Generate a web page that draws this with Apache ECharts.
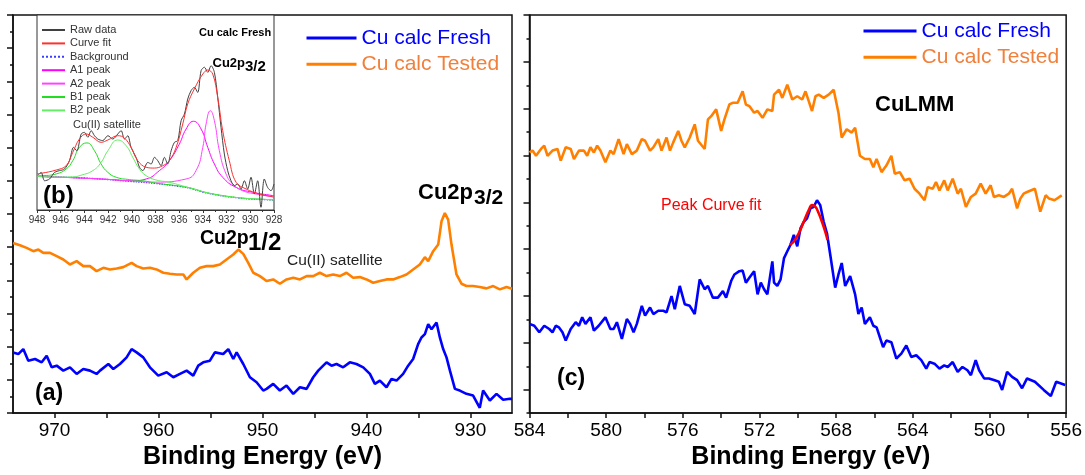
<!DOCTYPE html>
<html>
<head>
<meta charset="utf-8">
<script src="https://cdn.jsdelivr.net/npm/echarts@6/dist/echarts.min.js"></script>
<style>
  html, body { margin: 0; padding: 0; background: #fff; }
  #chart { width: 1085px; height: 475px; }
</style>
</head>
<body>
<div id="chart"></div>
<script>
// panel (a): Cu 2p, binding energy (eV) / intensity (a.u.)
var aFreshE = [974.0, 973.49, 973.01, 972.53, 971.88, 971.24, 970.76, 970.28, 969.80, 969.16, 968.52, 967.88, 967.24, 966.60, 965.96, 965.63, 964.83, 964.35, 963.71, 963.07, 962.59, 962.11, 961.47, 960.83, 960.03, 959.22, 958.58, 957.94, 957.30, 956.66, 956.18, 955.70, 955.06, 954.58, 953.78, 953.29, 952.81, 952.49, 951.85, 951.21, 950.57, 949.93, 949.61, 948.97, 948.33, 947.69, 947.04, 946.40, 945.76, 945.12, 944.64, 944.16, 943.84, 943.36, 942.88, 942.24, 941.60, 940.96, 940.31, 939.67, 939.19, 938.71, 938.07, 937.59, 937.11, 936.47, 935.99, 935.51, 935.03, 934.71, 934.38, 934.06, 933.74, 933.26, 932.94, 932.62, 932.30, 931.97, 931.49, 931.02, 930.38, 929.74, 929.10, 928.78, 928.13, 927.49, 926.85, 926.21, 926.0];
var aFreshI = [1.83, 1.78, 1.93, 1.58, 1.63, 1.53, 1.73, 1.38, 1.43, 1.28, 1.38, 1.18, 1.33, 1.28, 1.18, 1.28, 1.48, 1.33, 1.48, 1.68, 1.93, 1.83, 1.68, 1.38, 1.13, 1.23, 1.08, 1.18, 1.28, 1.13, 1.43, 1.53, 1.58, 1.83, 1.78, 1.93, 1.63, 1.83, 1.48, 1.08, 0.93, 0.68, 0.73, 0.88, 0.68, 0.83, 0.58, 0.78, 0.73, 1.08, 1.28, 1.43, 1.53, 1.43, 1.48, 1.38, 1.53, 1.48, 1.38, 1.18, 0.88, 0.98, 0.78, 1.03, 0.98, 1.18, 1.43, 1.63, 2.08, 2.28, 2.38, 2.68, 2.53, 2.73, 2.28, 1.93, 1.68, 1.28, 0.73, 0.68, 0.58, 0.53, 0.16, 0.68, 0.38, 0.58, 0.40, 0.43, 0.43];
var aTestE = [974.0, 973.33, 972.69, 972.04, 971.56, 971.08, 970.44, 969.80, 969.16, 968.52, 967.88, 967.24, 966.60, 965.96, 965.31, 964.67, 964.03, 963.39, 962.59, 962.11, 961.47, 960.83, 960.19, 959.54, 958.90, 958.26, 957.62, 957.30, 956.66, 956.02, 955.38, 954.74, 954.10, 953.46, 952.81, 952.33, 951.85, 951.37, 950.89, 950.25, 949.61, 948.97, 948.33, 947.69, 947.04, 946.40, 945.76, 945.12, 944.48, 943.84, 943.20, 942.56, 941.92, 941.28, 940.63, 939.99, 939.35, 938.71, 938.07, 937.43, 936.79, 936.15, 935.51, 934.87, 934.38, 934.06, 933.58, 933.10, 932.78, 932.46, 932.14, 931.82, 931.34, 930.86, 930.38, 929.74, 929.10, 928.46, 927.81, 927.17, 926.53, 926.0];
var aTestI = [5.13, 5.06, 4.98, 4.88, 4.93, 4.83, 4.83, 4.73, 4.63, 4.48, 4.58, 4.43, 4.43, 4.28, 4.38, 4.33, 4.36, 4.40, 4.53, 4.43, 4.36, 4.38, 4.33, 4.23, 4.20, 4.18, 4.18, 4.03, 4.23, 4.38, 4.43, 4.43, 4.48, 4.63, 4.78, 4.93, 4.80, 4.53, 4.23, 4.13, 3.98, 4.03, 3.90, 4.03, 4.08, 4.03, 4.13, 4.13, 4.23, 4.13, 4.18, 4.13, 4.23, 4.08, 4.10, 4.03, 3.93, 3.98, 4.03, 4.03, 4.10, 4.18, 4.33, 4.48, 4.70, 4.58, 4.88, 5.08, 5.78, 6.03, 5.83, 5.08, 4.18, 3.90, 3.83, 3.83, 3.80, 3.76, 3.83, 3.73, 3.80, 3.75];

// panel (c): Cu LMM
var cFreshE = [584.0, 583.75, 583.49, 583.23, 582.97, 582.80, 582.63, 582.46, 582.28, 582.11, 581.85, 581.59, 581.42, 581.25, 581.08, 580.82, 580.64, 580.39, 580.04, 579.78, 579.61, 579.44, 579.18, 578.92, 578.75, 578.57, 578.40, 578.14, 577.97, 577.71, 577.54, 577.28, 577.02, 576.85, 576.59, 576.42, 576.16, 575.90, 575.64, 575.38, 575.12, 574.86, 574.69, 574.43, 574.17, 573.91, 573.74, 573.48, 573.31, 573.05, 572.88, 572.71, 572.53, 572.28, 572.10, 571.93, 571.76, 571.59, 571.33,
  571.24, 571.07, 570.90, 570.72, 570.55, 570.38, 570.21, 570.03, 569.86, 569.69, 569.52, 569.34, 569.17, 569.00, 568.83, 568.65, 568.48, 568.31, 568.05, 567.88, 567.71, 567.53, 567.27, 567.01, 566.84, 566.67, 566.50, 566.24, 566.06, 565.89, 565.72, 565.55, 565.38, 565.12, 564.86, 564.60, 564.34, 564.08, 563.82, 563.56, 563.30, 563.13, 562.87, 562.61, 562.36, 562.18, 561.92, 561.66, 561.41, 561.15, 560.97, 560.72, 560.54, 560.28, 560.03, 559.77, 559.51, 559.34, 559.08, 558.82, 558.56, 558.30, 558.04, 557.63, 557.17, 556.80, 556.52, 556.05];
var cFreshI = [3.81, 3.73, 3.45, 3.73, 3.59, 3.45, 3.73, 3.66, 3.45, 3.10, 3.59, 3.88, 3.73, 4.09, 3.81, 4.09, 3.52, 3.73, 4.09, 3.59, 3.59, 3.88, 3.17, 4.02, 3.81, 3.45, 3.81, 4.58, 4.16, 4.51, 4.23, 4.37, 4.37, 4.30, 5.00, 4.44, 5.43, 4.65, 4.58, 4.23, 5.71, 5.29, 5.43, 4.93, 4.93, 5.21, 4.93, 5.64, 5.92, 6.06, 6.09, 5.57, 5.78, 6.06, 5.07, 5.57, 5.29, 5.07, 6.48,
  5.57, 5.43, 5.71, 6.62, 6.91, 7.19, 7.61, 7.12, 7.89, 8.17, 8.32, 8.74, 8.81, 9.09, 8.88, 8.17, 7.68, 6.77, 5.36, 5.92, 6.41, 5.43, 5.85, 5.07, 4.23, 4.51, 3.81, 4.09, 3.73, 3.66, 3.24, 2.82, 3.10, 3.03, 2.33, 2.54, 2.89, 2.40, 2.47, 2.26, 1.90, 2.18, 2.11, 1.90, 2.04, 1.97, 2.18, 1.76, 1.97, 1.83, 1.62, 2.26, 1.83, 1.48, 1.48, 1.41, 1.34, 0.99, 1.76, 1.55, 1.41, 1.06, 1.48, 1.34, 0.99, 0.73, 1.34, 1.20];
var cTestE = [584.0, 583.84, 583.66, 583.40, 583.23, 583.06, 582.80, 582.54, 582.37, 582.11, 581.85, 581.68, 581.42, 581.16, 580.99, 580.82, 580.64, 580.47, 580.30, 580.04, 579.78, 579.61, 579.35, 579.09, 578.92, 578.66, 578.40, 578.14, 577.97, 577.71, 577.54, 577.28, 577.11, 576.85, 576.67, 576.50, 576.24, 576.07, 575.90, 575.64, 575.38, 575.21, 574.86, 574.69, 574.52, 574.26, 574.00, 573.83, 573.57, 573.40, 573.14, 572.88, 572.71, 572.53, 572.28, 572.10, 571.84, 571.59, 571.33,
  571.24, 570.98, 570.81, 570.55, 570.29, 570.03, 569.77, 569.60, 569.43, 569.26, 569.08, 568.91, 568.65, 568.39, 568.13, 567.88, 567.71, 567.45, 567.19, 567.01, 566.76, 566.50, 566.24, 566.06, 565.89, 565.63, 565.38, 565.12, 564.94, 564.68, 564.43, 564.17, 563.91, 563.65, 563.39, 563.22, 562.96, 562.79, 562.61, 562.36, 562.18, 561.92, 561.66, 561.49, 561.23, 560.97, 560.72, 560.46, 560.20, 559.94, 559.77, 559.51, 559.25, 558.99, 558.82, 558.56, 558.39, 558.22, 558.04, 557.63, 557.35, 557.07, 556.89, 556.61, 556.23];
var cTestI = [11.13, 11.21, 10.99, 11.28, 11.42, 10.99, 11.21, 11.28, 10.78, 11.35, 11.28, 10.85, 11.21, 11.21, 10.99, 11.35, 11.13, 11.42, 11.21, 10.71, 11.21, 11.06, 11.70, 11.06, 11.49, 11.06, 11.21, 11.70, 11.63, 11.21, 11.35, 11.70, 11.21, 11.77, 11.21, 11.56, 12.05, 11.63, 11.35, 11.77, 12.33, 11.63, 11.28, 12.54, 12.68, 12.97, 12.05, 12.54, 13.18, 13.25, 13.25, 13.74, 13.18, 13.11, 12.83, 12.90, 12.61, 12.97, 12.90,
  13.60, 13.81, 13.46, 14.02, 13.39, 13.53, 13.39, 13.74, 13.32, 12.90, 13.53, 13.60, 13.46, 13.60, 13.81, 12.83, 11.77, 12.12, 11.98, 12.19, 10.99, 10.85, 10.85, 10.50, 10.85, 10.29, 10.57, 10.99, 10.22, 10.29, 9.94, 10.01, 9.58, 9.37, 9.09, 9.65, 9.58, 9.87, 9.51, 9.94, 9.51, 10.01, 9.37, 9.58, 8.81, 9.23, 9.37, 9.80, 9.37, 9.73, 9.23, 9.30, 9.23, 9.37, 9.58, 8.74, 9.16, 9.37, 9.44, 9.58, 8.60, 9.30, 9.16, 9.09, 9.30];
var cFitE = [570.41, 570.21, 569.95, 569.69, 569.43, 569.26, 569.08, 568.91, 568.74, 568.57, 568.45];
var cFitI = [7.19, 7.33, 7.68, 8.17, 8.67, 8.88, 8.81, 8.53, 8.17, 7.75, 7.40];

// inset (b): Cu 2p3/2 fit of fresh sample
var rawE = [947.9, 947.65, 947.36, 946.94, 946.52, 946.10, 945.68, 945.26, 944.92, 944.64, 944.27, 943.99, 943.71, 943.43, 943.15, 942.87, 942.45, 942.02, 941.60, 941.18, 940.90, 940.62, 940.34, 940.06, 939.64, 939.35, 939.07, 938.65, 938.37, 938.09, 937.81, 937.53, 937.25, 936.97, 936.68, 936.40, 936.12, 935.84, 935.56, 935.28, 935.00, 934.72, 934.44, 934.15, 933.87, 933.59, 933.31, 933.03, 932.75, 932.47, 932.19, 931.91, 931.63, 931.34, 931.06, 930.78, 930.50, 930.22, 929.94, 929.66, 929.38, 929.10, 928.82, 928.54, 928.25, 928.0];
var rawI = [18.0, 19.3, 15.0, 15.9, 19.3, 20.2, 21.0, 25.3, 32.1, 30.4, 39.0, 39.8, 37.3, 40.7, 38.1, 36.4, 35.6, 38.1, 36.4, 39.0, 40.7, 36.4, 38.1, 32.1, 27.0, 21.9, 20.2, 24.4, 23.6, 27.0, 25.3, 22.7, 27.0, 23.6, 30.4, 34.7, 35.6, 45.8, 49.2, 56.9, 61.2, 62.9, 60.3, 71.5, 73.2, 70.6, 74.0, 70.6, 57.8, 42.4, 28.7, 20.2, 15.0, 12.5, 13.3, 10.8, 15.0, 10.8, 16.8, 8.2, 15.0, 1.4, 15.9, 11.6, 9.9, 13.3];
var fitE = [948.0, 947.65, 946.38, 945.54, 944.98, 944.42, 943.85, 943.29, 942.59, 942.02, 941.18, 940.62, 940.06, 939.50, 938.79, 938.09, 937.39, 936.83, 936.26, 935.70, 935.28, 934.72, 934.01, 933.59, 933.17, 932.75, 932.33, 931.77, 931.20, 930.36, 929.24, 928.12, 928.0];
var fitI = [18.6, 18.8, 20.5, 22.7, 29.6, 36.4, 39.0, 37.3, 34.7, 35.9, 38.1, 36.9, 32.1, 25.3, 21.9, 21.5, 22.7, 25.3, 32.1, 44.1, 54.4, 62.1, 69.7, 71.8, 69.7, 57.8, 40.7, 25.3, 14.2, 10.8, 8.2, 6.8, 6.7];
var bgE = [948, 946, 944, 942, 940, 938, 936, 935, 934, 933, 932, 931, 930, 929, 928];
var bgI = [17.4, 16.9, 16.4, 15.6, 14.6, 13.6, 12.1, 11.0, 9.2, 7.9, 6.9, 6.2, 5.6, 5.4, 5.1];
var a1E = [948, 946, 944, 942, 940, 938.79, 937.67, 936.83, 935.99, 935.42, 934.80, 934.15, 933.59, 933.03, 932.33, 931.20, 929.80, 928.12, 928];
var a1I = [17.2, 16.8, 16.3, 15.7, 15.0, 15.9, 20.2, 25.3, 33.8, 41.5, 45.5, 41.5, 32.1, 23.6, 16.8, 11.6, 9.1, 7.4, 7.3];
var a2E = [948, 946, 944, 942, 940, 938, 935.42, 934.58, 934.01, 933.73, 933.37, 933.03, 932.61, 932.05, 931.48, 930.64, 929.52, 928.12, 928];
var a2I = [17.2, 16.8, 16.3, 15.7, 14.9, 14.3, 15.9, 20.2, 32.1, 44.1, 50.9, 45.8, 30.4, 18.5, 13.3, 9.9, 8.2, 6.8, 6.7];
var b1E = [948, 947.51, 946.38, 945.54, 944.98, 944.42, 943.79, 943.15, 942.59, 942.02, 941.32, 940.20, 939.07, 938, 936, 935, 934, 933, 932, 931, 930, 929, 928];
var b1I = [17.5, 17.6, 18.5, 21.0, 25.3, 32.1, 34.4, 30.4, 23.6, 19.3, 16.8, 15.6, 15.0, 13.8, 12.3, 11.2, 9.4, 8.1, 7.1, 6.3, 5.8, 5.5, 5.2];
var b2E = [948, 946, 945, 944.3, 943.29, 942.59, 942.02, 941.18, 940.48, 939.92, 939.35, 938.79, 937.95, 936.83, 935.5, 934.5, 933.5, 932.5, 931, 930, 929, 928];
var b2I = [17.3, 16.9, 17.0, 17.8, 20.2, 24.4, 30.4, 35.9, 33.0, 27.0, 21.0, 17.6, 15.4, 14.2, 12.0, 10.3, 8.6, 7.4, 6.3, 5.8, 5.5, 5.2];

var aTickVals = [930, 935, 940, 945, 950, 955, 960, 965, 970];
var aLabelVals = [930, 940, 950, 960, 970];

function zip(xs, ys) {
  var out = [];
  for (var i = 0; i < Math.min(xs.length, ys.length); i++) out.push([xs[i], ys[i]]);
  return out;
}

var BLUE = '#0000ff', ORANGE = '#ff8000';
var FONT = 'Liberation Sans, Arial, sans-serif';

// y ticks of panel (c): long on odd units, short on even units
var cMajor = [], cMinor = [];
for (var k = 0; k <= 17; k++) (k % 2 ? cMajor : cMinor).push(k);
// small inward ticks on the inset frame
var insetTicks = [];
for (var t = 0; t < 13; t++) insetTicks.push(3.9 + 7.1 * t);

var chart = echarts.init(document.getElementById('chart'));

function lineSeries(name, xi, yi, xs, ys, color, width, extra) {
  var s = {
    name: name, type: 'line', xAxisIndex: xi, yAxisIndex: yi,
    data: zip(xs, ys), symbol: 'none', showSymbol: false,
    lineStyle: { color: color, width: width }, itemStyle: { color: color },
    animation: false, z: 3
  };
  for (var key in extra) s[key] = extra[key];
  return s;
}

function txt(x, y, text, size, bold, color) {
  return {
    type: 'text', x: x, y: y, z: 100,
    style: {
      text: text, fontSize: size, fontWeight: bold ? 'bold' : 'normal',
      fontFamily: FONT, fill: color || '#000', verticalAlign: 'middle', align: 'left'
    }
  };
}

var axisLine = { lineStyle: { color: '#111', width: 1.5 } };
var tickStyle = { color: '#111', width: 1.5 };
var noSymbol = { opacity: 0 };

var option = {
  animation: false,
  backgroundColor: '#fff',
  textStyle: { fontFamily: FONT },
  grid: [
    { left: 13, top: 15, width: 499, height: 401, show: true, borderColor: '#111', borderWidth: 1.5 },
    { left: 529.5, top: 15, width: 540.5, height: 401.7, show: true, borderColor: '#111', borderWidth: 1.5 },
    { left: 37, top: 15, width: 237, height: 195, show: true, borderColor: '#333', borderWidth: 1, backgroundColor: '#fff', z: 1 }
  ],
  xAxis: [
    {
      gridIndex: 0, type: 'value', min: 926, max: 974, inverse: true,
      axisLine: axisLine, splitLine: { show: false },
      axisTick: { customValues: aTickVals, length: 5, lineStyle: tickStyle },
      axisLabel: { customValues: aLabelVals, fontSize: 19, color: '#000', margin: 8 },
      name: 'Binding Energy (eV)', nameLocation: 'middle', nameGap: 24,
      nameTextStyle: { fontSize: 25, fontWeight: 'bold', color: '#000' }
    },
    {
      gridIndex: 1, type: 'value', min: 556, max: 584, interval: 4, inverse: true,
      axisLine: axisLine, splitLine: { show: false },
      axisTick: { length: 5, lineStyle: tickStyle },
      minorTick: { show: true, splitNumber: 2, length: 5, lineStyle: tickStyle },
      axisLabel: { fontSize: 19, color: '#000', margin: 8 },
      name: 'Binding Energy (eV)', nameLocation: 'middle', nameGap: 26,
      nameTextStyle: { fontSize: 25, fontWeight: 'bold', color: '#000', padding: [0, 0, 0, 26] }
    },
    {
      gridIndex: 2, type: 'value', min: 928, max: 948, interval: 2, inverse: true,
      axisLine: { lineStyle: { color: '#333', width: 1 } }, splitLine: { show: false },
      axisTick: { length: 3, lineStyle: { color: '#333' } },
      minorTick: { show: true, splitNumber: 2, length: 2, lineStyle: { color: '#333' } },
      axisLabel: { fontSize: 10, color: '#333', margin: 5 }
    }
  ],
  yAxis: [
    {
      gridIndex: 0, type: 'value', min: 0, max: 12, interval: 1,
      axisLine: axisLine, splitLine: { show: false }, axisLabel: { show: false },
      axisTick: { length: 6, lineStyle: tickStyle },
      minorTick: { show: true, splitNumber: 2, length: 3, lineStyle: tickStyle }
    },
    {
      gridIndex: 1, type: 'value', min: 0, max: 17,
      axisLine: axisLine, splitLine: { show: false }, axisLabel: { show: false },
      axisTick: { customValues: cMajor, length: 6, lineStyle: tickStyle }
    },
    {
      gridIndex: 1, type: 'value', min: 0, max: 17, position: 'left',
      axisLine: { show: false }, splitLine: { show: false }, axisLabel: { show: false },
      axisTick: { customValues: cMinor, length: 3, lineStyle: tickStyle }
    },
    {
      gridIndex: 2, type: 'value', min: 0, max: 100,
      axisLine: { lineStyle: { color: '#333', width: 1 } }, splitLine: { show: false },
      axisLabel: { show: false },
      axisTick: { inside: true, customValues: insetTicks, length: 3, lineStyle: { color: '#333' } }
    }
  ],
  legend: [
    {
      orient: 'vertical', left: 305, top: 27.5, padding: 0, itemWidth: 50, itemHeight: 20, itemGap: 5.3,
      itemStyle: noSymbol, lineStyle: { width: 3 }, textStyle: { fontSize: 21 },
      data: [
        { name: 'Cu calc Fresh', textStyle: { color: BLUE } },
        { name: 'Cu calc Tested', textStyle: { color: '#f0803c' } }
      ]
    },
    {
      orient: 'vertical', left: 862, top: 20.5, padding: 0, itemWidth: 53, itemHeight: 20, itemGap: 5.2,
      itemStyle: noSymbol, lineStyle: { width: 3 }, textStyle: { fontSize: 21 },
      data: [
        { name: 'Cu calc Fresh', textStyle: { color: BLUE } },
        { name: 'Cu calc Tested', textStyle: { color: '#f0803c' } }
      ]
    },
    {
      orient: 'vertical', left: 41, top: 24.5, padding: 0, itemWidth: 23, itemHeight: 10, itemGap: 2.4,
      itemStyle: noSymbol, textStyle: { fontSize: 11, color: '#333' },
      data: ['Raw data', 'Curve fit', 'Background', 'A1 peak', 'A2 peak', 'B1 peak', 'B2 peak']
    }
  ],
  series: [
    lineSeries('Cu calc Tested', 0, 0, aTestE, aTestI, ORANGE, 2.6),
    lineSeries('Cu calc Fresh', 0, 0, aFreshE, aFreshI, BLUE, 2.6),
    lineSeries('Cu calc Tested', 1, 1, cTestE, cTestI, ORANGE, 2.6),
    lineSeries('Cu calc Fresh', 1, 1, cFreshE, cFreshI, BLUE, 2.6),
    lineSeries('Peak Curve fit', 1, 1, cFitE, cFitI, '#ff0000', 2.6, { smooth: 0.4, z: 4 }),
    lineSeries('Background', 2, 3, bgE, bgI, '#3c3cff', 1.3, { smooth: 0.4, lineStyle: { color: '#3c3cff', width: 1.3, type: 'dotted' }, z: 6 }),
    lineSeries('A1 peak', 2, 3, a1E, a1I, '#ff00ff', 1, { smooth: 0.5, z: 6 }),
    lineSeries('A2 peak', 2, 3, a2E, a2I, '#ff44ff', 1, { smooth: 0.5, z: 6 }),
    lineSeries('B1 peak', 2, 3, b1E, b1I, '#22dd22', 1, { smooth: 0.5, z: 6 }),
    lineSeries('B2 peak', 2, 3, b2E, b2I, '#66ee66', 1, { smooth: 0.5, z: 6 }),
    lineSeries('Raw data', 2, 3, rawE, rawI, '#404040', 1, { smooth: 0.3, z: 6 }),
    lineSeries('Curve fit', 2, 3, fitE, fitI, '#ff3030', 1, { smooth: 0.4, z: 7 })
  ],
  graphic: [
    txt(418, 193, 'Cu2p', 22, true),
    txt(474, 198, '3/2', 21, true),
    txt(200, 239, 'Cu2p', 19.5, true),
    txt(248, 243.5, '1/2', 24, true),
    txt(287, 261, 'Cu(II) satellite', 15.5, false, '#222'),
    txt(35, 394, '(a)', 23, true),
    txt(43, 196, '(b)', 24, true),
    txt(557, 379, '(c)', 23, true),
    txt(875, 105, 'CuLMM', 22, true),
    txt(661, 206, 'Peak Curve fit', 16, false, '#ff0000'),
    txt(199, 32.5, 'Cu calc Fresh', 11, true),
    txt(212.5, 63, 'Cu2p', 13, true),
    txt(245, 67, '3/2', 15, true),
    txt(73, 125, 'Cu(II) satellite', 11, false, '#333')
  ]
};

chart.setOption(option);
</script>
</body>
</html>
